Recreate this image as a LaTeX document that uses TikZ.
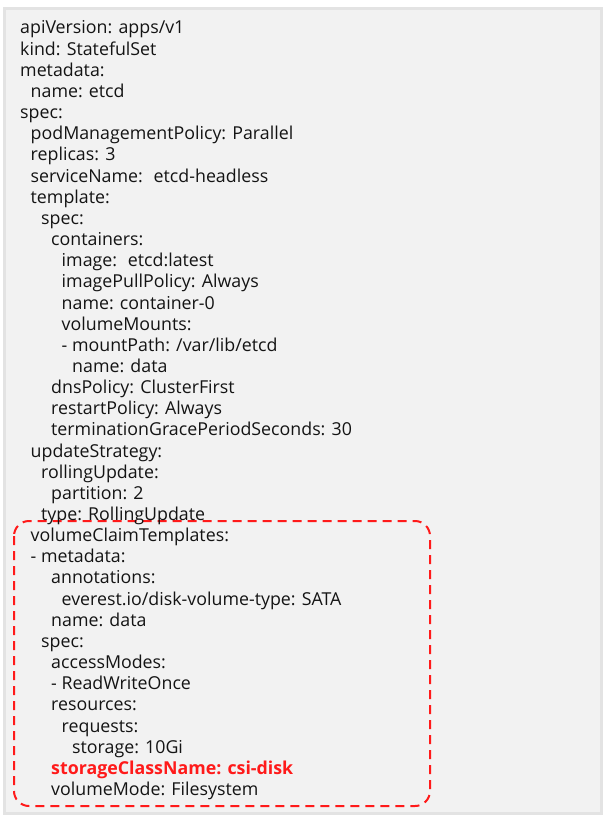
\documentclass[tikz,border=0pt]{standalone}
\usepackage{fontspec}
\setmainfont{Open Sans}
\definecolor{boxfill}{HTML}{F2F2F2}
\definecolor{boxline}{HTML}{E3E3E3}
\definecolor{hilite}{HTML}{FF1A1A}
\begin{document}
\begin{tikzpicture}[x=1pt, y=-1pt,
		yml/.style={anchor=base west, inner sep=0pt, font=\fontsize{17.8}{20}\selectfont, text=black!92},
		ymlred/.style={yml, text=hilite, font=\fontsize{17.8}{20}\selectfont\bfseries}]
		\useasboundingbox (0,0) rectangle (603,818);
		
		% DRAW THE BOX
		\filldraw[fill=boxfill, draw=boxline, line width=3pt] (4,9) rectangle (601.5,813);
		\draw[hilite, line width=2pt, dash pattern=on 9pt off 6pt, rounded corners=15pt] (14,521) rectangle (430,806);
		
		% STATEFULSET
		\node[yml] (api) at (20,34) {apiVersion: apps/v1};
		\node[yml] (kind) at (20,55.2) {kind: StatefulSet};
		\node[yml] (meta) at (20,76.3) {metadata:};
		\node[yml] (metaname) at (30.5,97.5) {name: etcd};
		\node[yml] (spec) at (20,118.6) {spec:};
		\node[yml] (podpol) at (30.5,139.8) {podManagementPolicy: Parallel};
		\node[yml] (replicas) at (30.5,160.9) {replicas: 3};
		\node[yml] (svcname) at (30.5,182.1) {serviceName:~ etcd-headless};
		\node[yml] (tmpl) at (30.5,203.2) {template:};
		\node[yml] (tmplspec) at (41,224.4) {spec:};
		\node[yml] (cont) at (51,245.5) {containers:};
		\node[yml] (image) at (61.5,266.7) {image:~ etcd:latest};
		\node[yml] (pullpol) at (61.5,287.8) {imagePullPolicy: Always};
		\node[yml] (contname) at (61.5,309) {name: container-0};
		\node[yml] (mounts) at (61.5,330.1) {volumeMounts:};
		\node[yml] (mpath) at (61.5,351.3) {- mountPath: /var/lib/etcd};
		\node[yml] (mname) at (72,372.4) {name: data};
		\node[yml] (dns) at (51,393.6) {dnsPolicy: ClusterFirst};
		\node[yml] (restart) at (51,414.7) {restartPolicy: Always};
		\node[yml] (grace) at (51,435.9) {terminationGracePeriodSeconds: 30};
		\node[yml] (upd) at (30.5,457) {updateStrategy:};
		\node[yml] (rolling) at (41,478.2) {rollingUpdate:};
		\node[yml] (part) at (51,499.3) {partition: 2};
		\node[yml] (updtype) at (41,520.5) {type: RollingUpdate};
		
		% VOLUME CLAIM TEMPLATES
		\node[yml] (vct) at (30.5,541.6) {volumeClaimTemplates:};
		\node[yml] (vctmeta) at (30.5,562.8) {- metadata:};
		\node[yml] (annot) at (51,583.9) {annotations:};
		\node[yml] (disktype) at (61.5,605.1) {everest.io/disk-volume-type: SATA};
		\node[yml] (vctname) at (51,626.2) {name: data};
		\node[yml] (vctspec) at (41,647.4) {spec:};
		\node[yml] (access) at (51,668.5) {accessModes:};
		\node[yml] (rwo) at (51,689.7) {- ReadWriteOnce};
		\node[yml] (res) at (51,710.8) {resources:};
		\node[yml] (req) at (61.5,732) {requests:};
		\node[yml] (storage) at (72,753.1) {storage: 10Gi};
		\node[ymlred] (scname) at (51,774.3) {storageClassName: csi-disk};
		\node[yml] (volmode) at (51,795.4) {volumeMode: Filesystem};
	\end{tikzpicture}
\end{document}
